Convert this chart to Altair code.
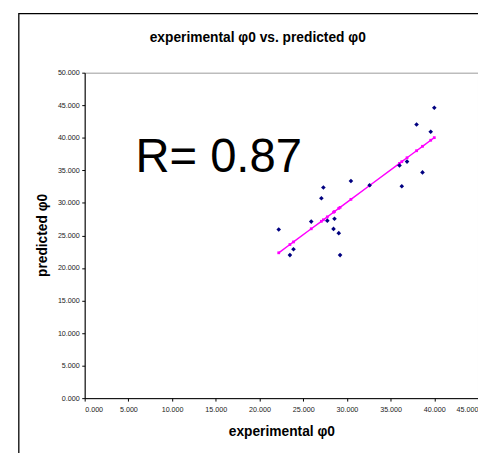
import altair as alt
import pandas as pd

# experimental vs predicted phi0 values
exp_vals = [22.20, 23.48, 23.89, 25.92, 27.08, 27.31, 27.76, 28.47, 28.58, 29.07,
            29.22, 30.46, 32.60, 36.02, 36.28, 36.88, 37.97, 38.65, 39.59, 40.00]
pred_vals = [25.90, 21.98, 22.88, 27.12, 30.70, 32.36, 27.27, 26.00, 27.57, 25.35,
             21.98, 33.37, 32.71, 35.74, 32.56, 36.34, 42.04, 34.68, 40.93, 44.61]

# trend line points (pink)
fit_x = [22.20, 23.48, 23.89, 25.92, 27.08, 27.31, 27.76, 28.47, 28.58, 29.07,
         29.22, 30.46, 32.60, 36.02, 36.28, 36.88, 37.97, 38.65, 39.59, 40.00]
fit_y = [22.33, 23.60, 24.00, 26.02, 27.17, 27.40, 27.85, 28.56, 28.67, 29.16,
         29.31, 30.54, 32.67, 36.07, 36.33, 36.93, 38.01, 38.69, 39.62, 40.02]

x_ticks = [0, 5, 10, 15, 20, 25, 30, 35, 40, 45]
y_ticks = [0, 5, 10, 15, 20, 25, 30, 35, 40, 45, 50]

title_text = "experimental φ0 vs. predicted φ0"
x_title = "experimental φ0"
y_title = "predicted φ0"
r_label = ["R= 0.87"]
r_pos_x = [5.8]
r_pos_y = [34.8]

FONT = "Liberation Sans"

pts = pd.DataFrame({"exp": exp_vals, "pred": pred_vals})
fit = pd.DataFrame({"exp": fit_x, "pred": fit_y})
ann = pd.DataFrame({"label": r_label, "x": r_pos_x, "y": r_pos_y})
one = pd.DataFrame({"t": [title_text]})

xscale = alt.Scale(domain=[0, 45], nice=False, zero=True)
yscale = alt.Scale(domain=[0, 50], nice=False, zero=True)

xaxis = alt.Axis(values=x_ticks, format=".3f", grid=False, title=x_title,
                 domainColor="black", tickColor="black", tickSize=3, labelPadding=5,
                 labelFontSize=7.3, labelColor="#222", labelFont=FONT,
                 titleFont=FONT, titleFontSize=14, titleFontWeight="bold", titleColor="black",
                 titleX=200, titleY=34, titleBaseline="middle", labelOverlap=False)
yaxis = alt.Axis(values=y_ticks, format=".3f", grid=False, title=y_title,
                 domainColor="black", tickColor="black", tickSize=3, labelPadding=2.5,
                 labelFontSize=7.3, labelColor="#222", labelFont=FONT,
                 titleFont=FONT, titleFontSize=14, titleFontWeight="bold", titleColor="black",
                 titleX=-43, titleY=165, titleAngle=270, titleBaseline="middle",
                 titleAlign="center", labelOverlap=False)

X = alt.X("exp:Q", scale=xscale, axis=xaxis)
Y = alt.Y("pred:Q", scale=yscale, axis=yaxis)

frame = alt.Chart(one).mark_rect(fill=None, stroke="black", strokeWidth=1.3).encode(
    x=alt.value(-67), x2=alt.value(700), y=alt.value(-60), y2=alt.value(700)
)

title = alt.Chart(one).mark_text(font=FONT, fontSize=14, fontWeight="bold",
                                 baseline="middle", align="center", color="black").encode(
    text="t:N", x=alt.value(176), y=alt.value(-35)
)

line = alt.Chart(fit).mark_line(color="#FF00FF", strokeWidth=1.5).encode(x=X, y=Y)
line_pts = alt.Chart(fit).mark_point(shape="square", filled=True, color="#FF00FF",
                                     size=8, opacity=1).encode(x=X, y=Y)
points = alt.Chart(pts).mark_point(shape="diamond", filled=True, color="#000080",
                                   size=22, opacity=1).encode(x=X, y=Y)
rtext = alt.Chart(ann).mark_text(font=FONT, fontSize=48, align="left",
                                 baseline="alphabetic", color="black").encode(
    x=alt.X("x:Q", scale=xscale, axis=xaxis), y=alt.Y("y:Q", scale=yscale, axis=yaxis),
    text="label:N"
)

chart = alt.layer(frame, title, line, line_pts, points, rtext).properties(
    width=400, height=331,
    autosize=alt.AutoSizeParams(type="none"),
    padding={"left": 78, "top": 62, "right": 0, "bottom": 52},
    background="white",
).configure_view(stroke="#999999", strokeWidth=1)

chart.save("out.html", embed_options={"renderer": "svg", "actions": False})
